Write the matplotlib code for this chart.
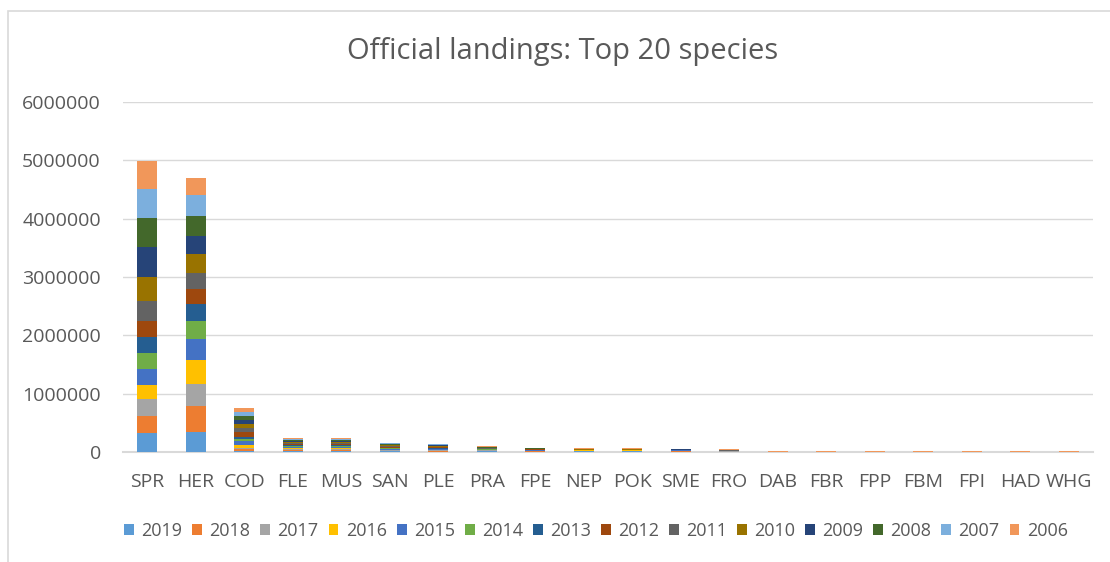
import numpy as np
import matplotlib
matplotlib.use("Agg")
import matplotlib.pyplot as plt
from matplotlib.patches import Rectangle, Patch

plt.rcParams['font.family'] = ['Open Sans', 'DejaVu Sans']

species = ['SPR', 'HER', 'COD', 'FLE', 'MUS', 'SAN', 'PLE', 'PRA', 'FPE', 'NEP',
           'POK', 'SME', 'FRO', 'DAB', 'FBR', 'FPP', 'FBM', 'FPI', 'HAD', 'WHG']
years = ['2019', '2018', '2017', '2016', '2015', '2014', '2013',
         '2012', '2011', '2010', '2009', '2008', '2007', '2006']

# landings per year (rows) for each species (columns)
y2019 = [320000, 349000, 20000, 15000, 14000, 9000, 8000, 20000, 6000, 15000, 12000, 5000, 4000, 0, 0, 0, 0, 0, 0, 0]
y2018 = [297000, 434000, 23000, 16000, 16000, 10000, 9000, 5000, 5000, 4000, 8000, 4000, 3000, 0, 0, 0, 0, 0, 0, 0]
y2017 = [286000, 388000, 29000, 17000, 18000, 11000, 10000, 4000, 5000, 4000, 3000, 10000, 3000, 0, 0, 0, 0, 0, 0, 0]
y2016 = [246000, 400000, 46000, 17000, 17000, 11000, 10000, 4000, 5000, 3000, 3000, 4000, 3000, 0, 0, 0, 0, 0, 0, 0]
y2015 = [268000, 366000, 63000, 18000, 18000, 12000, 10000, 5000, 5000, 3000, 3000, 3000, 3000, 0, 0, 0, 0, 0, 0, 0]
y2014 = [286000, 314000, 34000, 18000, 17000, 12000, 11000, 5000, 6000, 3000, 3000, 3000, 3000, 0, 0, 0, 0, 0, 0, 0]
y2013 = [268000, 286000, 46000, 18000, 17000, 12000, 11000, 6000, 6000, 3000, 3000, 3000, 3000, 0, 0, 0, 0, 0, 0, 0]
y2012 = [275000, 252000, 80000, 18000, 18000, 12000, 11000, 6000, 5000, 3000, 3000, 3000, 3000, 0, 0, 0, 0, 0, 0, 0]
y2011 = [343000, 280000, 69000, 18000, 17000, 12000, 11000, 6000, 6000, 3000, 3000, 4000, 4000, 0, 0, 0, 0, 0, 0, 0]
y2010 = [411000, 320000, 69000, 18000, 18000, 12000, 11000, 7000, 6000, 3000, 3000, 3000, 3000, 0, 0, 0, 0, 0, 0, 0]
y2009 = [520000, 314000, 69000, 18000, 17000, 12000, 11000, 7000, 5000, 3000, 3000, 3000, 3000, 0, 0, 0, 0, 0, 0, 0]
y2008 = [486000, 348000, 69000, 18000, 17000, 12000, 11000, 6000, 6000, 3000, 3000, 3000, 3000, 0, 0, 0, 0, 0, 0, 0]
y2007 = [503000, 355000, 69000, 17000, 17000, 11000, 10000, 5000, 5000, 3000, 3000, 3000, 2000, 0, 0, 0, 0, 0, 0, 0]
y2006 = [485000, 286000, 63000, 15000, 19000, 12000, 10000, 11000, 4000, 7000, 8000, 9000, 3000, 25000, 24000, 24000, 24000, 23000, 23000, 23000]

values = [y2019, y2018, y2017, y2016, y2015, y2014, y2013,
          y2012, y2011, y2010, y2009, y2008, y2007, y2006]

colors = ['#5B9BD5', '#ED7D31', '#A5A5A5', '#FFC000', '#4472C4', '#70AD47', '#255E91',
          '#9E480E', '#636363', '#997300', '#264478', '#43682B', '#7CAFDD', '#F1975A']

txt = '#595959'

fig = plt.figure(figsize=(11.1, 5.62), dpi=100)
# chart area border (runs off the right and bottom edges)
fig.patches.append(Rectangle((8 / 1110, -0.1), 1.2, (562 - 11) / 562 + 0.1,
                             transform=fig.transFigure, fill=False,
                             edgecolor='#D9D9D9', linewidth=1.2))

ax = fig.add_axes([123 / 1110, 110 / 562, 970 / 1110, 350 / 562])
x = np.arange(len(species))
bottom = np.zeros(len(species))
for yr, vals, c in zip(years, values, colors):
    ax.bar(x, vals, width=0.42, bottom=bottom, color=c, label=yr, zorder=3)
    bottom += np.array(vals)

ax.set_xlim(-0.5, len(species) - 0.5)
ax.set_ylim(0, 6000000)
ax.set_yticks(np.arange(0, 6000001, 1000000))
ax.set_yticklabels([str(v) for v in range(0, 6000001, 1000000)])
ax.set_xticks(x)
ax.set_xticklabels(species)
ax.grid(axis='y', color='#D9D9D9', linewidth=1.0, zorder=0)
for s in ['top', 'right', 'left']:
    ax.spines[s].set_visible(False)
ax.spines['bottom'].set_color('#D9D9D9')
ax.spines['bottom'].set_linewidth(1.5)
ax.tick_params(axis='both', length=0, labelsize=14, colors=txt)
ax.tick_params(axis='y', pad=16)
ax.tick_params(axis='x', pad=15)

fig.text(563 / 1110, 1 - 52 / 562, 'Official landings: Top 20 species',
         ha='center', va='center', fontsize=21, color=txt)

handles = [Patch(facecolor=c, edgecolor='none') for c in colors]
leg = fig.legend(handles, years, loc='center', bbox_to_anchor=(596 / 1110, 1 - 531 / 562),
                 ncol=14, frameon=False, fontsize=13, handlelength=0.55, handleheight=0.55,
                 handletextpad=0.4, columnspacing=0.55, borderaxespad=0)
for t in leg.get_texts():
    t.set_color(txt)

fig.savefig('out.png', dpi=100)
